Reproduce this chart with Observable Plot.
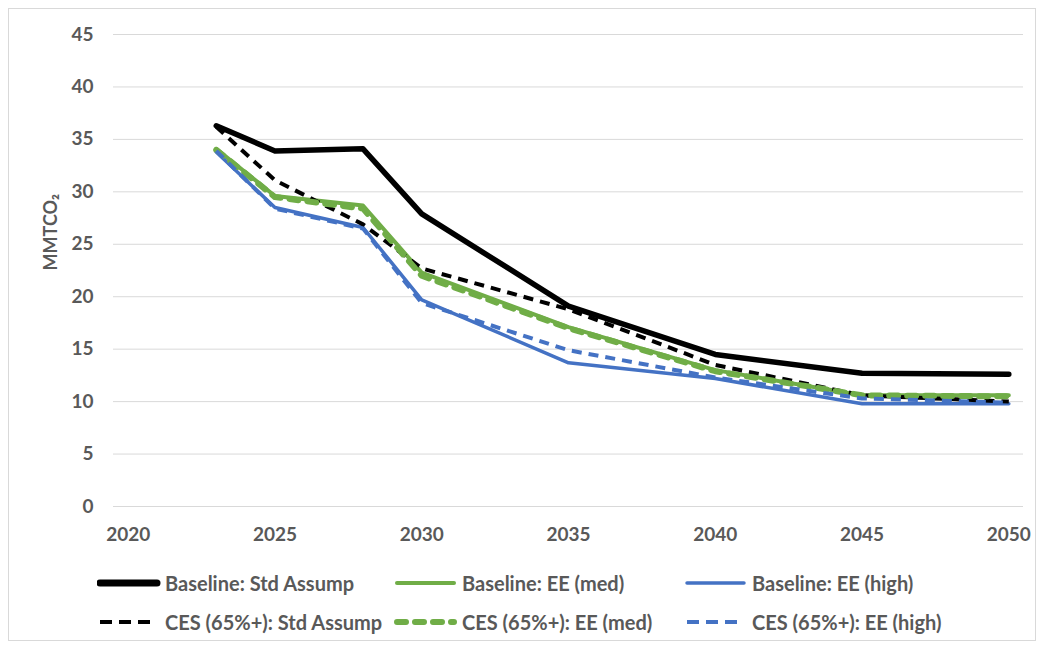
<!DOCTYPE html>
<html>
<head>
<meta charset="utf-8">
<script src="https://cdn.jsdelivr.net/npm/d3@7"></script>
<script src="https://cdn.jsdelivr.net/npm/@observablehq/plot@0.6"></script>
<style>
  html, body { margin: 0; padding: 0; background: #fff; }
  #wrap { position: relative; width: 1043px; height: 648px; font-family: Lato, "Open Sans", sans-serif; }
  #frame { position: absolute; left: 8px; top: 8px; width: 1026px; height: 631px; border: 1px solid #d9d9d9; }
  #chart { position: absolute; left: 0; top: 0; }
  .leg { position: absolute; display: flex; align-items: center; font-size: 20px; font-weight: 700; color: #595959; white-space: nowrap; }
  .leg svg { margin-right: 4px; }
</style>
</head>
<body>
<div id="wrap">
  <div id="frame"></div>
  <div id="chart"></div>
</div>
<script>
const years = [2023, 2025, 2028, 2030, 2035, 2040, 2045, 2050];
const seriesNames = [
  "Baseline: Std Assump", "Baseline: EE (med)", "Baseline: EE (high)",
  "CES (65%+): Std Assump", "CES (65%+): EE (med)", "CES (65%+): EE (high)"
];
const baseStd  = [36.3, 33.9, 34.1, 27.9, 19.1, 14.5, 12.7, 12.6];
const baseMed  = [34.1, 29.6, 28.7, 22.3, 17.1, 13.0, 10.6, 10.6];
const baseHigh = [33.8, 28.5, 26.6, 19.7, 13.7, 12.2, 9.8, 9.8];
const cesStd   = [36.2, 31.1, 26.9, 22.7, 18.8, 13.5, 10.6, 10.0];
const cesMed   = [34.0, 29.5, 28.4, 22.0, 17.0, 12.9, 10.6, 10.5];
const cesHigh  = [33.9, 28.4, 26.5, 19.4, 14.9, 12.3, 10.3, 9.9];
const xTicks = [2020, 2025, 2030, 2035, 2040, 2045, 2050];
const yTicks = [0, 5, 10, 15, 20, 25, 30, 35, 40, 45];
const yLabel = "MMTCO₂";

const valueSets = [baseStd, baseMed, baseHigh, cesStd, cesMed, cesHigh];
const styles = [
  {stroke: "#000000", strokeWidth: 5.5, dash: null, cap: "round"},
  {stroke: "#70AD47", strokeWidth: 4, dash: null, cap: "round"},
  {stroke: "#4472C4", strokeWidth: 3.5, dash: null, cap: "round"},
  {stroke: "#000000", strokeWidth: 4, dash: "10,7", cap: "butt"},
  {stroke: "#70AD47", strokeWidth: 6, dash: "9,9", cap: "round"},
  {stroke: "#4472C4", strokeWidth: 4, dash: "10,7", cap: "butt"}
];

const table = seriesNames.map((name, i) =>
  years.map((yr, j) => ({series: name, year: yr, value: valueSets[i][j]})));

const font = "Lato, 'Open Sans', sans-serif";
const plot = Plot.plot({
  width: 1043,
  height: 560,
  marginLeft: 113,
  marginRight: 20,
  marginTop: 34,
  marginBottom: 54,
  style: {fontFamily: font, background: "transparent", overflow: "visible"},
  x: {domain: [2019.5, 2050.5]},
  y: {domain: [0, 45]},
  marks: [
    Plot.gridY(yTicks, {stroke: "#d9d9d9", strokeOpacity: 1, strokeWidth: 1}),
    Plot.axisY(yTicks, {tickSize: 0, tickPadding: 20, fontSize: 19, fontWeight: 700, fill: "#595959", label: null}),
    Plot.axisX(xTicks, {tickSize: 0, tickPadding: 21, fontSize: 19, fontWeight: 700, fill: "#595959",
      tickFormat: d3.format("d"), label: null}),
    Plot.text([yLabel], {frameAnchor: "left", dx: -62, rotate: -90, fontSize: 18, fontWeight: 700,
      fill: "#595959", text: d => d}),
    ...table.map((rows, i) => Plot.line(rows, {
      x: "year", y: "value",
      stroke: styles[i].stroke, strokeWidth: styles[i].strokeWidth,
      strokeDasharray: styles[i].dash || undefined,
      strokeLinecap: styles[i].cap, strokeLinejoin: "round"
    }))
  ]
});
document.getElementById("chart").appendChild(plot);

// legend
const legPos = [
  {left: 97, top: 571}, {left: 394, top: 571}, {left: 684, top: 571},
  {left: 97, top: 610}, {left: 394, top: 610}, {left: 684, top: 610}
];
const wrap = document.getElementById("wrap");
seriesNames.forEach((name, i) => {
  const s = styles[i];
  const div = document.createElement("div");
  div.className = "leg";
  div.style.left = legPos[i].left + "px";
  div.style.top = legPos[i].top + "px";
  div.style.height = "24px";
  const w = 60;
  const dash = s.dash ? (i === 4 ? "9,9" : "12,7") : null;
  div.innerHTML = `<svg width="${w + 4}" height="12"><line x1="3" x2="${w}" y1="6" y2="6" stroke="${s.stroke}" stroke-width="${i === 0 ? 7 : s.strokeWidth}" ${dash ? `stroke-dasharray="${dash}"` : ""} stroke-linecap="${s.cap}"/></svg><span>${name}</span>`;
  wrap.appendChild(div);
});
</script>
</body>
</html>
